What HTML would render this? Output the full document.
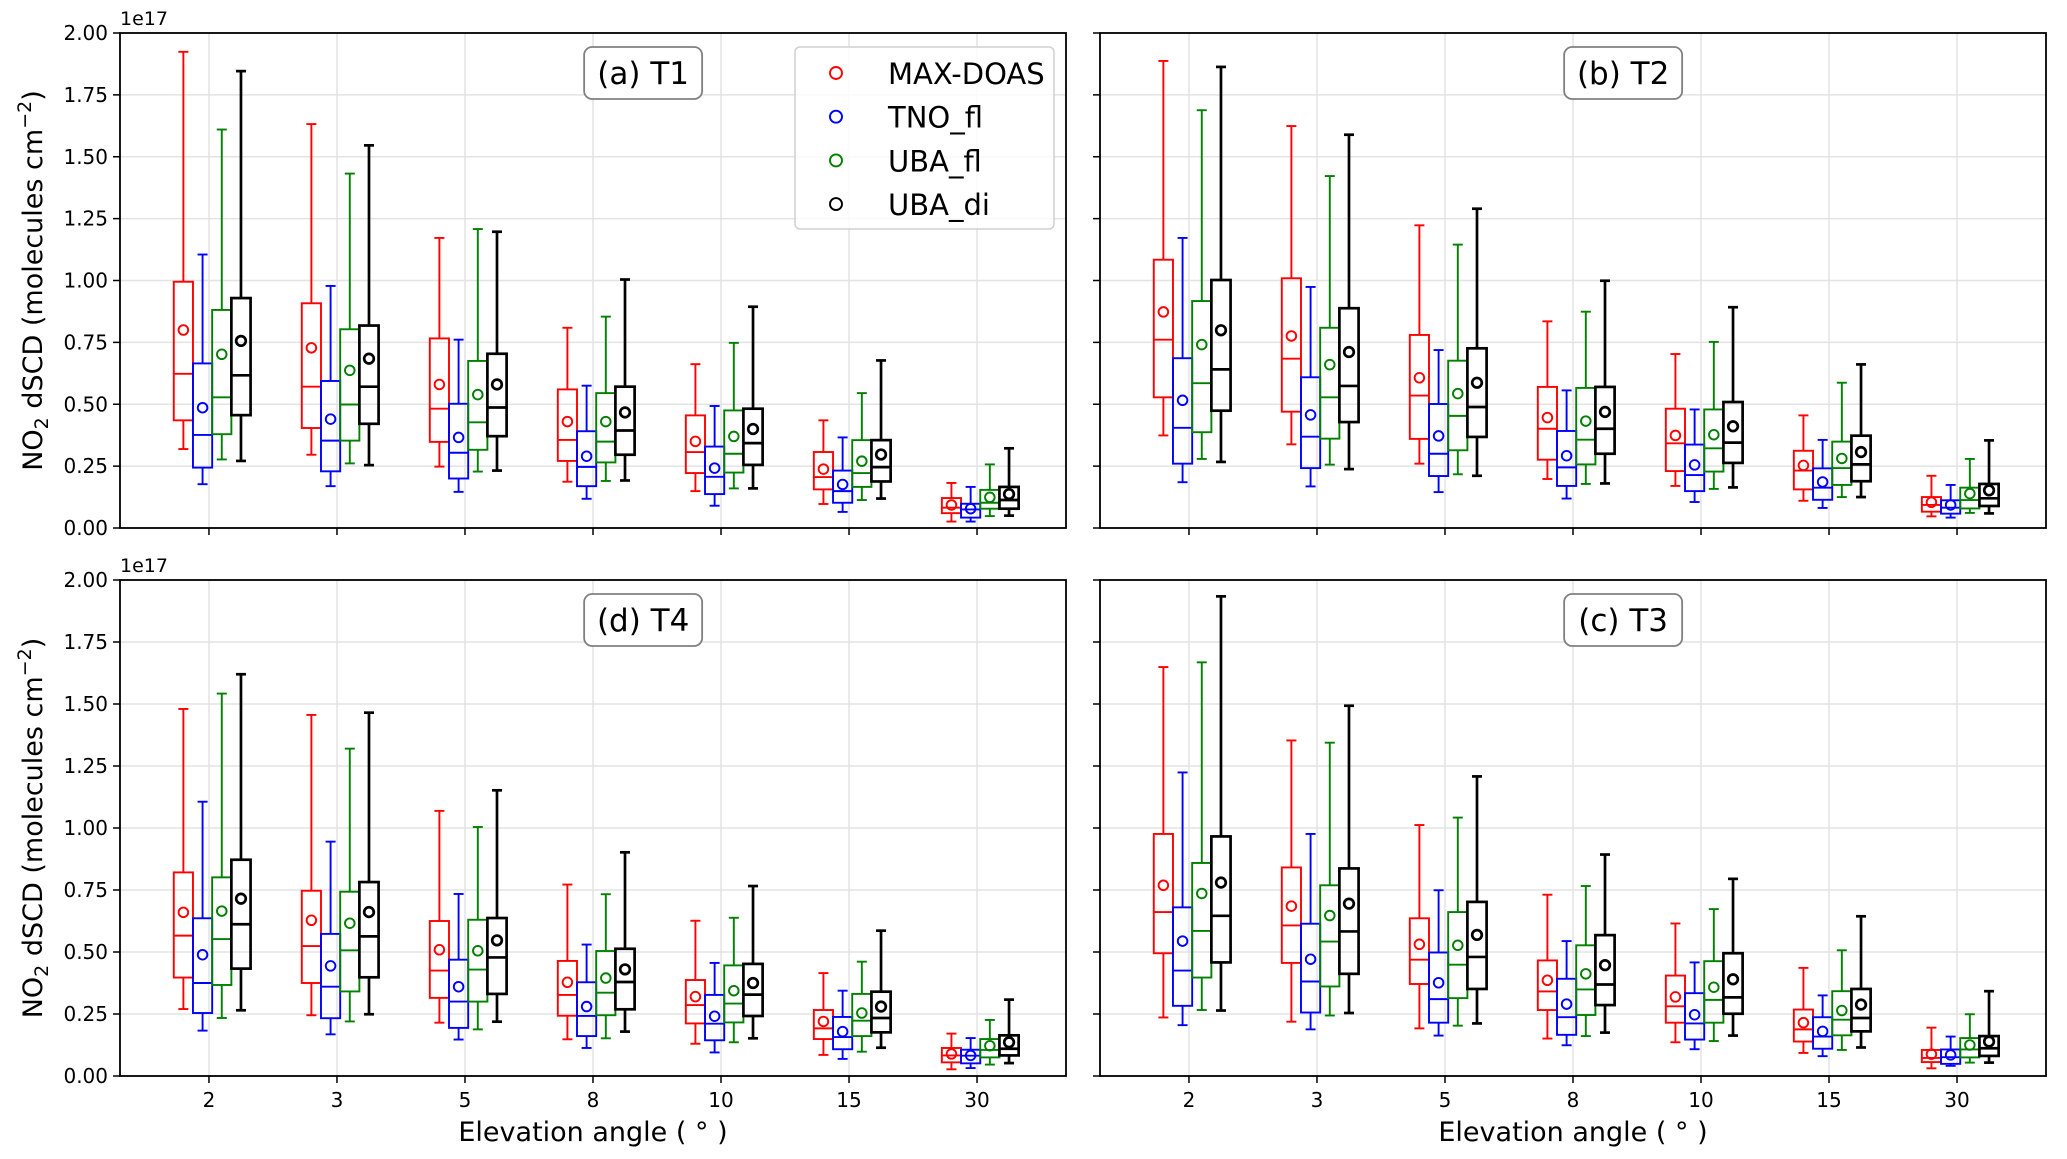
<!DOCTYPE html>
<html><head><meta charset="utf-8"><style>
html,body{margin:0;padding:0;background:#fff}
svg{display:block;font-family:"DejaVu Sans","Liberation Sans",sans-serif}
</style></head><body>
<svg id="chart" xmlns="http://www.w3.org/2000/svg" width="2067" height="1159" viewBox="0 0 2067 1159"></svg>
<script>
// Categories and tick labels
const angles = ["2","3","5","8","10","15","30"];
const yTicks = [0,0.25,0.5,0.75,1.0,1.25,1.5,1.75,2.0];
const yTickLabels = ["0.00","0.25","0.50","0.75","1.00","1.25","1.50","1.75","2.00"];
const seriesNames = ["MAX-DOAS","TNO_fl","UBA_fl","UBA_di"];
// Each entry: [whiskerLow, q1, median, q3, whiskerHigh, mean] in 1e17 molecules cm^-2
const t1_maxdoas = [[0.319,0.435,0.623,0.995,1.924,0.80],[0.296,0.404,0.571,0.908,1.632,0.728],[0.248,0.348,0.482,0.766,1.172,0.58],[0.187,0.271,0.356,0.56,0.809,0.43],[0.149,0.222,0.307,0.455,0.662,0.35],[0.097,0.156,0.206,0.307,0.435,0.238],[0.026,0.06,0.082,0.121,0.182,0.093]];
const t1_tno = [[0.177,0.244,0.376,0.665,1.105,0.486],[0.169,0.229,0.353,0.594,0.978,0.44],[0.146,0.2,0.304,0.502,0.761,0.366],[0.118,0.169,0.247,0.391,0.575,0.29],[0.09,0.137,0.207,0.329,0.493,0.242],[0.065,0.102,0.149,0.232,0.366,0.176],[0.026,0.042,0.075,0.098,0.166,0.078]];
const t1_ubafl = [[0.277,0.379,0.528,0.881,1.61,0.702],[0.261,0.353,0.499,0.803,1.432,0.637],[0.228,0.316,0.427,0.675,1.208,0.539],[0.19,0.265,0.349,0.545,0.854,0.43],[0.16,0.224,0.30,0.475,0.748,0.37],[0.113,0.166,0.222,0.355,0.545,0.27],[0.048,0.078,0.102,0.154,0.257,0.124]];
const t1_ubadi = [[0.271,0.456,0.617,0.929,1.846,0.756],[0.254,0.421,0.571,0.818,1.546,0.684],[0.232,0.371,0.487,0.704,1.197,0.58],[0.192,0.296,0.394,0.571,1.004,0.467],[0.16,0.255,0.343,0.482,0.894,0.40],[0.119,0.188,0.246,0.355,0.677,0.297],[0.05,0.078,0.113,0.166,0.322,0.137]];
const t2_maxdoas = [[0.374,0.528,0.761,1.084,1.887,0.873],[0.338,0.47,0.684,1.009,1.624,0.776],[0.26,0.36,0.535,0.78,1.223,0.607],[0.198,0.276,0.401,0.57,0.835,0.446],[0.17,0.23,0.342,0.482,0.703,0.374],[0.11,0.156,0.232,0.312,0.455,0.253],[0.047,0.066,0.093,0.125,0.211,0.104]];
const t2_tno = [[0.185,0.26,0.405,0.686,1.172,0.516],[0.168,0.242,0.369,0.609,0.974,0.457],[0.145,0.21,0.30,0.501,0.719,0.372],[0.119,0.17,0.245,0.392,0.556,0.292],[0.105,0.149,0.214,0.337,0.479,0.255],[0.081,0.114,0.163,0.241,0.356,0.186],[0.042,0.058,0.082,0.112,0.174,0.093]];
const t2_ubafl = [[0.279,0.387,0.585,0.917,1.688,0.741],[0.256,0.361,0.528,0.809,1.422,0.66],[0.217,0.314,0.453,0.676,1.145,0.543],[0.178,0.257,0.357,0.566,0.874,0.432],[0.158,0.228,0.322,0.479,0.752,0.377],[0.125,0.174,0.242,0.349,0.587,0.281],[0.061,0.079,0.113,0.163,0.279,0.139]];
const t2_ubadi = [[0.267,0.474,0.641,1.002,1.863,0.799],[0.238,0.428,0.574,0.888,1.589,0.711],[0.211,0.368,0.489,0.726,1.29,0.587],[0.18,0.30,0.401,0.57,0.999,0.469],[0.164,0.263,0.345,0.509,0.892,0.411],[0.125,0.189,0.257,0.373,0.661,0.307],[0.059,0.089,0.12,0.178,0.354,0.152]];
const t3_maxdoas = [[0.236,0.495,0.661,0.976,1.649,0.769],[0.219,0.456,0.607,0.841,1.353,0.685],[0.192,0.371,0.469,0.636,1.012,0.531],[0.151,0.266,0.341,0.466,0.731,0.386],[0.136,0.215,0.281,0.405,0.615,0.319],[0.093,0.139,0.188,0.268,0.436,0.215],[0.031,0.056,0.073,0.105,0.195,0.088]];
const t3_tno = [[0.205,0.283,0.425,0.68,1.224,0.544],[0.188,0.256,0.381,0.614,0.976,0.471],[0.163,0.215,0.31,0.498,0.749,0.376],[0.124,0.166,0.237,0.392,0.544,0.29],[0.108,0.147,0.212,0.334,0.458,0.247],[0.08,0.11,0.159,0.237,0.325,0.18],[0.041,0.049,0.076,0.107,0.159,0.085]];
const t3_ubafl = [[0.266,0.397,0.585,0.859,1.668,0.736],[0.244,0.361,0.542,0.769,1.344,0.647],[0.203,0.314,0.449,0.661,1.042,0.527],[0.161,0.246,0.349,0.527,0.766,0.412],[0.141,0.215,0.307,0.463,0.673,0.358],[0.105,0.164,0.227,0.342,0.507,0.264],[0.054,0.075,0.107,0.153,0.249,0.125]];
const t3_ubadi = [[0.264,0.458,0.646,0.966,1.934,0.78],[0.254,0.412,0.583,0.837,1.493,0.695],[0.212,0.351,0.48,0.702,1.208,0.569],[0.175,0.286,0.369,0.568,0.893,0.447],[0.163,0.251,0.317,0.495,0.795,0.39],[0.115,0.18,0.234,0.351,0.644,0.288],[0.054,0.081,0.112,0.161,0.342,0.139]];
const t4_maxdoas = [[0.27,0.397,0.566,0.821,1.48,0.66],[0.245,0.375,0.524,0.747,1.456,0.628],[0.215,0.315,0.425,0.625,1.069,0.509],[0.148,0.243,0.327,0.464,0.772,0.378],[0.13,0.212,0.286,0.387,0.626,0.32],[0.085,0.149,0.192,0.266,0.415,0.22],[0.027,0.055,0.083,0.113,0.171,0.089]];
const t4_tno = [[0.183,0.254,0.375,0.636,1.106,0.489],[0.168,0.233,0.36,0.573,0.945,0.444],[0.147,0.194,0.30,0.469,0.734,0.36],[0.113,0.161,0.242,0.378,0.53,0.28],[0.095,0.144,0.211,0.327,0.456,0.241],[0.069,0.108,0.157,0.238,0.344,0.179],[0.032,0.051,0.082,0.106,0.153,0.083]];
const t4_ubafl = [[0.234,0.367,0.552,0.801,1.542,0.665],[0.22,0.341,0.507,0.743,1.32,0.616],[0.188,0.30,0.429,0.63,1.004,0.505],[0.152,0.245,0.336,0.504,0.733,0.395],[0.136,0.216,0.292,0.446,0.638,0.344],[0.098,0.161,0.223,0.331,0.461,0.254],[0.046,0.075,0.105,0.149,0.226,0.122]];
const t4_ubadi = [[0.265,0.433,0.612,0.872,1.62,0.715],[0.249,0.398,0.563,0.782,1.465,0.661],[0.219,0.331,0.478,0.637,1.152,0.547],[0.179,0.269,0.379,0.513,0.902,0.43],[0.152,0.242,0.328,0.452,0.766,0.375],[0.114,0.176,0.234,0.34,0.586,0.28],[0.052,0.083,0.11,0.164,0.308,0.136]];

const colors = ["#ff0000","#0000ff","#008000","#000000"];
const widths = [1.9,1.9,1.9,2.7];
const panels = [
  {id:"t1", title:"(a) T1", x0:120, x1:1066, y0:33, y1:528, left:true, bottom:false, legend:true, data:[t1_maxdoas,t1_tno,t1_ubafl,t1_ubadi]},
  {id:"t2", title:"(b) T2", x0:1100, x1:2046, y0:33, y1:528, left:false, bottom:false, legend:false, data:[t2_maxdoas,t2_tno,t2_ubafl,t2_ubadi]},
  {id:"t4", title:"(d) T4", x0:120, x1:1066, y0:580, y1:1076, left:true, bottom:true, legend:false, data:[t4_maxdoas,t4_tno,t4_ubafl,t4_ubadi]},
  {id:"t3", title:"(c) T3", x0:1100, x1:2046, y0:580, y1:1076, left:false, bottom:true, legend:false, data:[t3_maxdoas,t3_tno,t3_ubafl,t3_ubadi]}
];
const NS = "http://www.w3.org/2000/svg";
const svg = document.getElementById("chart");
function mk(tag, attrs, parent){ const e=document.createElementNS(NS,tag); for(const k in attrs) e.setAttribute(k,attrs[k]); (parent||svg).appendChild(e); return e; }

panels.forEach(p=>{
  const g = mk("g",{});
  
  
  // x domain: categories at positions 1..7, limits 0.305..7.695
  const xmin=0.305, xmax=7.695;
  const step = (p.x1-p.x0)/(xmax-xmin);
  const xScale = i => p.x0 + step*(i+1-xmin);
  const yScale = v => p.y1 - (v/2.0)*(p.y1-p.y0);
  yTicks.forEach((t,k)=>{
    const y=yScale(t);
    const l=mk("line",{x1:p.x0,x2:p.x1,y1:y,y2:y,stroke:"#e3e3e3","stroke-width":1.5},g);
    
    
    const tk=mk("line",{x1:p.x0-7,x2:p.x0,y1:y,y2:y,stroke:"#000","stroke-width":1.5},g);
    
    
    if(p.left){
      const tx=mk("text",{x:p.x0-12,y:y+7,"text-anchor":"end","font-size":20,fill:"#000"},g);
      tx.textContent=yTickLabels[k];
      
      
    }
  });
  angles.forEach((a,i)=>{
    const x=xScale(i);
    const l=mk("line",{x1:x,x2:x,y1:p.y0,y2:p.y1,stroke:"#e3e3e3","stroke-width":1.5},g);
    
    
    const tk=mk("line",{x1:x,x2:x,y1:p.y1,y2:p.y1+7,stroke:"#000","stroke-width":1.5},g);
    
    
    if(p.bottom){
      const tx=mk("text",{x:x,y:p.y1+31,"text-anchor":"middle","font-size":20,fill:"#000"},g);
      tx.textContent=a;
      
      
    }
  });
  const bw = step*0.15;
  p.data.forEach((ser,s)=>{
    const sg=mk("g",{},g);
    
    
    const c=colors[s], w=widths[s];
    ser.forEach((d,i)=>{
      const cx = xScale(i) + (s-1.333)*bw;
      const bg=mk("g",{fill:"none",stroke:c,"stroke-width":w},sg);
      
      
      const yl=yScale(d[0]), yq1=yScale(d[1]), ym=yScale(d[2]), yq3=yScale(d[3]), yh=yScale(d[4]), ymean=yScale(d[5]);
      mk("line",{x1:cx,x2:cx,y1:yq1,y2:yl},bg);
      mk("line",{x1:cx,x2:cx,y1:yq3,y2:yh},bg);
      mk("line",{x1:cx-5,x2:cx+5,y1:yl,y2:yl},bg);
      mk("line",{x1:cx-5,x2:cx+5,y1:yh,y2:yh},bg);
      mk("rect",{x:cx-bw/2,y:yq3,width:bw,height:Math.max(0,yq1-yq3)},bg);
      mk("line",{x1:cx-bw/2,x2:cx+bw/2,y1:ym,y2:ym},bg);
      mk("circle",{cx:cx,cy:ymean,r:4.8},bg);
    });
  });
  const fr=mk("rect",{x:p.x0,y:p.y0,width:p.x1-p.x0,height:p.y1-p.y0,fill:"none",stroke:"#000","stroke-width":1.8},g);
  
  
  if(p.left){
    const off=mk("text",{x:p.x0,y:p.y0-8,"font-size":19,fill:"#000"},g);
    off.textContent="1e17";
    
    
  }
  const tcx = p.x0 + (p.x1-p.x0)*0.553;
  const tb=mk("rect",{x:tcx-59,y:p.y0+14,width:118,height:52,rx:8,fill:"#fff",stroke:"#808080","stroke-width":1.8},g);
  
  
  const tt=mk("text",{x:tcx,y:p.y0+51,"text-anchor":"middle","font-size":31,fill:"#000"},g);
  tt.textContent=p.title;
  
  
  if(p.legend){
    const lg=mk("g",{},g);
    
    
    mk("rect",{x:795,y:47,width:259,height:182,rx:5,fill:"#fff","fill-opacity":0.8,stroke:"#d0d0d0","stroke-width":1.5},lg);
    seriesNames.forEach((n,s)=>{
      const e=mk("g",{},lg);
      
      
      const yy=73+s*43.7;
      mk("circle",{cx:836,cy:yy,r:6,fill:"none",stroke:colors[s],"stroke-width":1.9},e);
      const t=mk("text",{x:888,y:yy+11,"font-size":29,fill:"#000"},e);
      t.textContent=n;
    });
  }
  if(p.left){
    const cy=(p.y0+p.y1)/2;
    const yl=mk("text",{x:0,y:0,"text-anchor":"middle","font-size":27,fill:"#000",transform:`translate(42,${cy}) rotate(-90)`},g);
    yl.innerHTML='NO<tspan font-size="19" dy="6">2</tspan><tspan dy="-6"> dSCD (molecules cm</tspan><tspan font-size="19" dy="-11">−2</tspan><tspan dy="11">)</tspan>';
    
    
  }
  if(p.bottom){
    const xl=mk("text",{x:(p.x0+p.x1)/2,y:1141,"text-anchor":"middle","font-size":27,fill:"#000"},g);
    xl.textContent="Elevation angle ( ° )";
    
    
  }
});
</script>
</body></html>
